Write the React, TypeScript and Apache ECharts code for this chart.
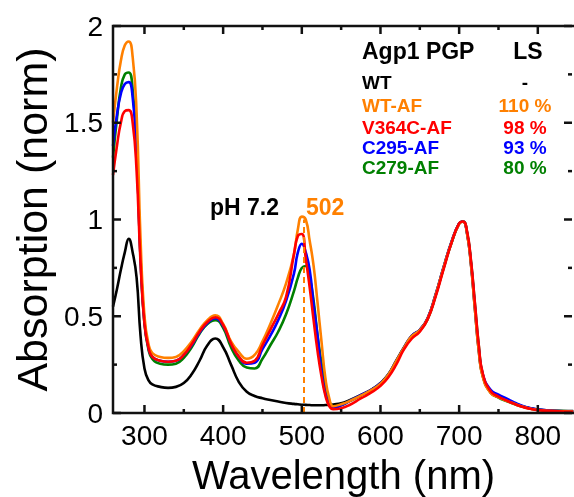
import React, { useEffect, useRef } from "react";
import * as echarts from "echarts";

// Shared wavelength grid (nm)
const wavelengths = [
  260, 265, 270, 275, 280, 285, 290, 295, 300, 305, 310, 320, 330, 340, 350, 360, 370, 380, 390, 400,
  410, 420, 430, 440, 450, 460, 470, 480, 490, 495, 500, 505, 510, 515, 520, 525, 530, 535, 540, 550,
  560, 575, 590, 600, 610, 620, 630, 640, 650, 660, 670, 680, 690, 700, 705, 710, 715, 720, 725, 730,
  740, 750, 760, 770, 780, 790, 800, 820, 845,
];

// Normalised absorption spectra
const wtAbs = [
  0.55, 0.64, 0.74, 0.83, 0.9, 0.83, 0.7, 0.4, 0.23, 0.17, 0.148, 0.135, 0.13, 0.135, 0.155, 0.2, 0.27, 0.35, 0.385, 0.34,
  0.25, 0.16, 0.11, 0.088, 0.076, 0.067, 0.059, 0.052, 0.047, 0.045, 0.043, 0.042, 0.041, 0.04, 0.04, 0.04, 0.041, 0.042, 0.044, 0.05,
  0.065, 0.093, 0.125, 0.155, 0.2, 0.27, 0.34, 0.4, 0.43, 0.49, 0.61, 0.75, 0.88, 0.98, 0.99, 0.93, 0.77, 0.54, 0.32, 0.19,
  0.105, 0.083, 0.065, 0.05, 0.035, 0.025, 0.018, 0.012, 0.01,
];
const wtAfAbs = [
  1.5, 1.68, 1.82, 1.9, 1.92, 1.84, 1.55, 0.9, 0.5, 0.36, 0.31, 0.29, 0.285, 0.29, 0.32, 0.37, 0.43, 0.48, 0.505, 0.46,
  0.37, 0.315, 0.28, 0.3, 0.37, 0.46, 0.56, 0.67, 0.82, 0.95, 1.015, 1.0, 0.89, 0.76, 0.57, 0.37, 0.18, 0.075, 0.035, 0.045,
  0.06, 0.09, 0.122, 0.152, 0.198, 0.268, 0.338, 0.398, 0.428, 0.488, 0.608, 0.748, 0.878, 0.978, 0.988, 0.928, 0.768, 0.538, 0.318, 0.188,
  0.103, 0.081, 0.063, 0.048, 0.033, 0.023, 0.016, 0.01, 0.008,
];
const v364cAbs = [
  1.23, 1.38, 1.5, 1.56, 1.565, 1.5, 1.25, 0.78, 0.46, 0.34, 0.29, 0.27, 0.265, 0.27, 0.3, 0.355, 0.42, 0.47, 0.495, 0.455,
  0.36, 0.29, 0.26, 0.27, 0.35, 0.43, 0.51, 0.6, 0.82, 0.915, 0.925, 0.8, 0.65, 0.48, 0.32, 0.19, 0.09, 0.035, 0.02, 0.025,
  0.04, 0.075, 0.11, 0.14, 0.185, 0.25, 0.33, 0.385, 0.42, 0.485, 0.6, 0.74, 0.875, 0.98, 0.99, 0.94, 0.79, 0.57, 0.35, 0.205,
  0.112, 0.085, 0.065, 0.047, 0.032, 0.022, 0.015, 0.01, 0.006,
];
const c295Abs = [
  1.38, 1.54, 1.65, 1.7, 1.71, 1.63, 1.35, 0.8, 0.47, 0.34, 0.29, 0.27, 0.265, 0.27, 0.3, 0.35, 0.415, 0.465, 0.49, 0.45,
  0.36, 0.29, 0.255, 0.26, 0.33, 0.4, 0.48, 0.58, 0.72, 0.83, 0.875, 0.83, 0.74, 0.56, 0.4, 0.22, 0.1, 0.045, 0.025, 0.04,
  0.06, 0.092, 0.124, 0.154, 0.198, 0.268, 0.338, 0.4, 0.43, 0.49, 0.61, 0.75, 0.88, 0.98, 0.99, 0.93, 0.775, 0.55, 0.33, 0.2,
  0.12, 0.095, 0.075, 0.055, 0.037, 0.026, 0.018, 0.012, 0.009,
];
const c279Abs = [
  1.32, 1.52, 1.68, 1.75, 1.76, 1.67, 1.36, 0.8, 0.46, 0.33, 0.28, 0.255, 0.25, 0.255, 0.285, 0.34, 0.41, 0.46, 0.48, 0.44,
  0.34, 0.27, 0.235, 0.23, 0.28, 0.35, 0.42, 0.51, 0.63, 0.7, 0.75, 0.76, 0.7, 0.58, 0.4, 0.26, 0.135, 0.06, 0.035, 0.04,
  0.06, 0.09, 0.122, 0.152, 0.196, 0.265, 0.335, 0.395, 0.425, 0.485, 0.605, 0.745, 0.875, 0.978, 0.99, 0.935, 0.785, 0.565, 0.345, 0.2,
  0.108, 0.08, 0.062, 0.047, 0.033, 0.023, 0.016, 0.011, 0.008,
];

// Legend rows: sample name, light-sensitivity value, colour
const sampleNames = ["WT", "WT-AF", "V364C-AF", "C295-AF", "C279-AF"];
const lsValues = ["-", "110 %", "98 %", "93 %", "80 %"];
const sampleColors = ["#000000", "#ff8000", "#ff0000", "#0000ff", "#008000"];

// Axis ranges and ticks
const X_MIN = 260;
const X_MAX = 846;
const Y_MIN = 0;
const Y_MAX = 2;
const xMajorTicks = [300, 400, 500, 600, 700, 800];
const xMinorTicks = [350, 450, 550, 650, 750];
const yMajorTicks = [0, 0.5, 1, 1.5, 2];
const yMinorTicks = [0.25, 0.75, 1.25, 1.75];

// Orange chromophore peak marker
const PEAK_WL = 502;
const PEAK_LINE_TOP = 1.0;

const FONT = "Liberation Sans, Arial, Helvetica, sans-serif";
const FRAME_COLOR = "#111111";

// Draw order (last on top)
const drawOrder = [0, 4, 3, 1, 2];
const seriesValues = [wtAbs, wtAfAbs, v364cAbs, c295Abs, c279Abs];

const MAJOR_LEN = 8;
const MINOR_LEN = 4;

export default function App() {
  const ref = useRef<HTMLDivElement>(null);

  useEffect(() => {
    if (!ref.current) return;
    const chart = echarts.init(ref.current, undefined, { renderer: "svg" });

    const lineSeries: any[] = drawOrder.map((idx, k) => ({
      type: "line",
      name: sampleNames[idx],
      data: wavelengths.map((w, i) => [w, seriesValues[idx][i]]),
      showSymbol: false,
      smooth: 0.5,
      lineStyle: { color: sampleColors[idx], width: 2.6 },
      z: 2 + k / 10,
      ...(idx === 0
        ? {
            markLine: {
              silent: true,
              symbol: "none",
              label: { show: false },
              lineStyle: { color: "#ff8000", type: [6, 4], width: 2 },
              data: [[{ coord: [PEAK_WL, 0] }, { coord: [PEAK_WL, PEAK_LINE_TOP] }]],
            },
          }
        : {}),
    }));

    chart.setOption({
      animation: false,
      grid: {
        left: 113,
        top: 26,
        right: 0,
        bottom: 84,
        outerBoundsMode: "none",
      },
      xAxis: {
        type: "value",
        min: X_MIN,
        max: X_MAX,
        axisLine: { show: false },
        axisTick: { show: false },
        splitLine: { show: false },
        axisLabel: {
          fontSize: 28,
          color: "#000",
          fontFamily: FONT,
          margin: 8,
          showMinLabel: false,
          showMaxLabel: false,
          formatter: (v: number) => (xMajorTicks.includes(v) ? String(v) : ""),
        },
        name: "Wavelength (nm)",
        nameLocation: "middle",
        nameGap: 42,
        nameTextStyle: { fontSize: 40, color: "#000", fontFamily: FONT },
      },
      yAxis: {
        type: "value",
        min: Y_MIN,
        max: Y_MAX,
        interval: 0.5,
        axisLine: { show: false },
        axisTick: { show: false },
        splitLine: { show: false },
        axisLabel: { fontSize: 28, color: "#000", fontFamily: FONT, margin: 10 },
        name: "Absorption (norm)",
        nameLocation: "middle",
        nameGap: 56,
        nameTextStyle: { fontSize: 43, color: "#000", fontFamily: FONT },
      },
      series: lineSeries,
    });

    // Frame and inward ticks, placed through the grid's scales
    const px = (x: number, y: number) => chart.convertToPixel({ gridIndex: 0 }, [x, y]) as number[];
    const seg = (a: number[], b: number[]) => ({
      type: "polyline",
      silent: true,
      z: 50,
      shape: { points: [a, b] },
      style: { stroke: FRAME_COLOR, lineWidth: 2.5, fill: null },
    });

    const frame: any[] = [
      {
        type: "polyline",
        silent: true,
        z: 50,
        shape: { points: [px(X_MAX, Y_MAX), px(X_MIN, Y_MAX), px(X_MIN, Y_MIN), px(X_MAX, Y_MIN)] },
        style: { stroke: FRAME_COLOR, lineWidth: 2.5, fill: null },
      },
    ];
    const ticks: any[] = [];
    [...xMajorTicks, ...xMinorTicks].forEach((v) => {
      const len = xMajorTicks.includes(v) ? MAJOR_LEN : MINOR_LEN;
      const b = px(v, Y_MIN);
      const t = px(v, Y_MAX);
      ticks.push(seg(b, [b[0], b[1] - len]), seg(t, [t[0], t[1] + len]));
    });
    [...yMajorTicks, ...yMinorTicks].forEach((v) => {
      const len = yMajorTicks.includes(v) ? MAJOR_LEN : MINOR_LEN;
      const l = px(X_MIN, v);
      const r = px(X_MAX, v);
      ticks.push(seg(l, [l[0] + len, l[1]]), seg([r[0] - 2, r[1]], [r[0] - 2 - len, r[1]]));
    });

    const txt = (text: string, x: number, y: number, color: string, size: number, align: string) => ({
      type: "text",
      x,
      y,
      z: 60,
      style: {
        text,
        fill: color,
        fontSize: size,
        fontWeight: "bold",
        fontFamily: FONT,
        textAlign: align,
        textVerticalAlign: "middle",
        align,
        verticalAlign: "middle",
      },
    });

    const legendX = 362;
    const lsX = 525;
    const rowY = [82, 105, 127, 147, 167];
    const texts: any[] = [
      txt("Agp1 PGP", legendX, 51, "#000", 23, "left"),
      txt("LS", 528, 51, "#000", 23, "center"),
      ...sampleNames.map((n, i) => txt(n, legendX, rowY[i], sampleColors[i], 19, "left")),
      ...lsValues.map((v, i) => txt(v, lsX, rowY[i], sampleColors[i], 19, "center")),
      txt("pH 7.2", 210, 207, "#000", 23, "left"),
      txt(String(PEAK_WL), 306, 207, "#ff8000", 23, "left"),
    ];

    chart.setOption({ graphic: [...frame, ...ticks, ...texts] });

    return () => chart.dispose();
  }, []);

  return <div ref={ref} style={{ position: "fixed", left: 0, top: 0, width: 574, height: 497 }} />;
}
